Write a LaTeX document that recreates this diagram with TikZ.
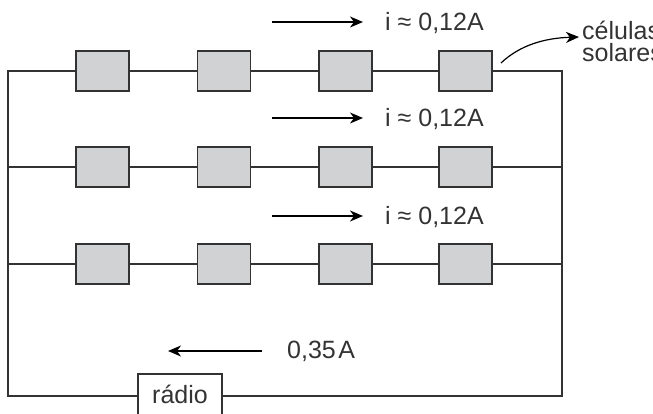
\documentclass[tikz,border=0pt]{standalone}
\usepackage{fontspec}
\setmainfont{Liberation Sans}
\usetikzlibrary{arrows.meta}
\definecolor{ink}{HTML}{333333}
\definecolor{cellgray}{HTML}{D0D2D3}
\tikzset{
  x=1pt,y=-1pt,
  cell/.style={draw=ink,line width=1.5pt,fill=cellgray,minimum width=53pt,minimum height=40pt,inner sep=0pt,outer sep=0pt},
  wire/.style={draw=ink,line width=1.4pt},
  flow/.style={draw=black,line width=1.2pt,-{Stealth[length=13pt,width=11pt,inset=4pt]}},
  lab/.style={text=ink,font=\fontsize{25}{27}\selectfont,inner sep=0pt,anchor=west}
}
\begin{document}
\begin{tikzpicture}
\useasboundingbox (0,0) rectangle (653,414);
\foreach \r/\y in {a/71,b/167,c/264}{
  \foreach \n/\x in {1/102.5,2/224,3/345.5,4/465.5}{
    \node[cell] (\r\n) at (\x,\y) {};
  }
}
\node[draw=ink,line width=1.5pt,fill=white,minimum width=84pt,minimum height=46pt,inner sep=0pt,outer sep=0pt] (radio) at (180,397) {};
\node[text=ink,font=\fontsize{25}{27}\selectfont,inner sep=0pt] (radiotxt) at (180,394) {rádio};
\coordinate (tl) at (8,71);
\coordinate (tr) at (562,71);
\coordinate (bl) at (8,396);
\coordinate (br) at (562,396);
\coordinate (lb) at (8,167);
\coordinate (lc) at (8,264);
\coordinate (rb) at (562,167);
\coordinate (rc) at (562,264);
\draw[wire] (a1.west) -- (tl) -- (bl) -- (bl-|radio.west);
\draw[wire] (radio.east|-br) -- (br) -- (tr) -- (a4.east);
\foreach \r in {a,b,c}{
  \draw[wire] (\r1.east) -- (\r2.west);
  \draw[wire] (\r2.east) -- (\r3.west);
  \draw[wire] (\r3.east) -- (\r4.west);
}
\draw[wire] (lb) -- (b1.west);
\draw[wire] (lc) -- (c1.west);
\draw[wire] (b4.east) -- (rb);
\draw[wire] (c4.east) -- (rc);
\coordinate (f1s) at (272,22); \coordinate (f1e) at (363,22);
\coordinate (f2s) at (272,118); \coordinate (f2e) at (363,118);
\coordinate (f3s) at (272,216); \coordinate (f3e) at (363,216);
\coordinate (f4s) at (262,351); \coordinate (f4e) at (168,351);
\draw[flow] (f1s) -- (f1e);
\draw[flow] (f2s) -- (f2e);
\draw[flow] (f3s) -- (f3e);
\draw[flow] (f4s) -- (f4e);
\node[lab] (t1) at (385,23) {i ≈ 0,12A};
\node[lab] (t2) at (385,119) {i ≈ 0,12A};
\node[lab] (t3) at (385,217) {i ≈ 0,12A};
\node[lab] (t4) at (287,351) {0,35\kern2.5pt A};
\node[lab] (cel) at (582,30) {células};
\node[lab] (sol) at (582,53) {solares};
\coordinate (cs) at (501,63);
\coordinate (ce) at (579,37);
\draw[flow] (cs) .. controls (520,45) and (545,38) .. (ce);
\end{tikzpicture}
\end{document}
